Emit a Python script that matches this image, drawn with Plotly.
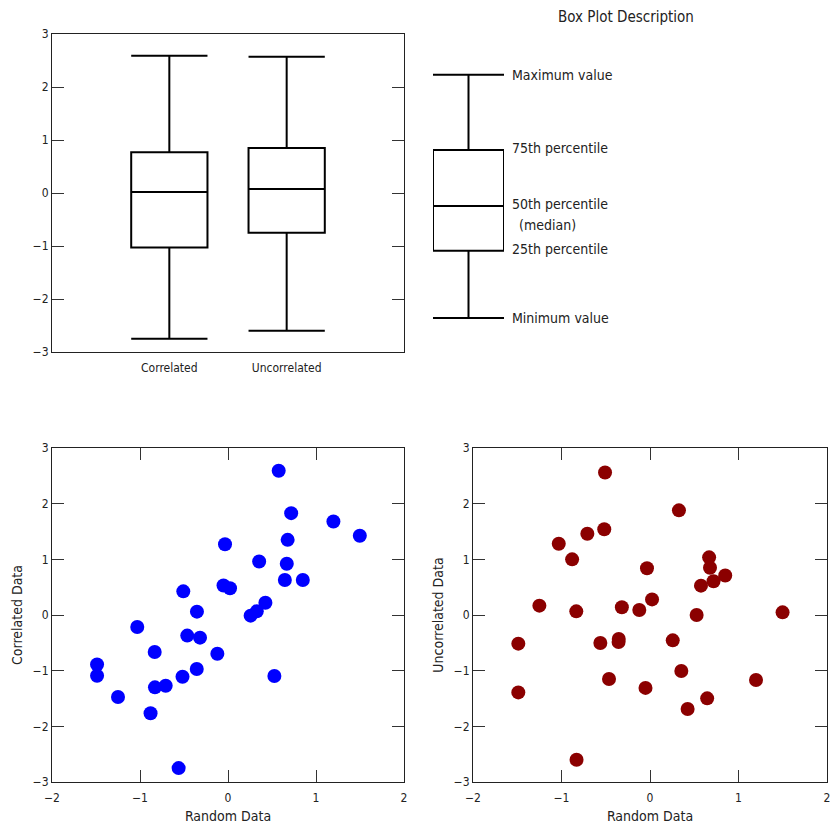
import plotly.graph_objects as go

# ---------------- data ----------------
random_x = [0.576, 0.718, 1.198, 1.498, -0.034, 0.678, 0.354, 0.668, 0.646, 0.850,
            -0.051, 0.023, -0.508, -0.353, 0.425, 0.327, 0.257, -1.031, -0.463, -0.318,
            -0.833, -0.121, -1.488, -1.488, -0.355, -0.517, 0.527, -0.830, -0.708, -1.250,
            -0.880, -0.561]
correlated_y = [2.59, 1.83, 1.68, 1.425, 1.27, 1.35, 0.96, 0.92, 0.63, 0.63,
                0.53, 0.48, 0.425, 0.06, 0.22, 0.066, -0.012, -0.216, -0.37, -0.407,
                -0.665, -0.695, -0.89, -1.09, -0.97, -1.108, -1.096, -1.30, -1.27, -1.473,
                -1.766, -2.75]
uncorrelated_y = [0.527, 0.605, -1.168, 0.048, 0.84, 0.85, -1.006, 1.036, -1.497, 0.71,
                  -1.31, 0.28, 2.56, -0.43, -1.689, 1.88, -0.455, 1.28, -1.15, 0.138,
                  0.066, 0.09, -0.515, -1.39, -0.485, 1.54, 0.0, -2.60, 1.46, 0.168,
                  1.0, -0.503]

box_categories = ["Correlated", "Uncorrelated"]
box_min = [-2.75, -2.60]
box_q1 = [-1.03, -0.75]
box_median = [0.02, 0.075]
box_q3 = [0.77, 0.85]
box_max = [2.59, 2.57]

desc_stats = {"min": -2.36, "q1": -1.09, "median": -0.245, "q3": 0.81, "max": 2.23}
desc_labels = ["Maximum value", "75th percentile", "50th percentile", "25th percentile", "Minimum value"]

# ---------------- style ----------------
FONT = "DejaVu Sans Condensed, Liberation Sans Narrow, sans-serif"
W, H = 835, 830
def px_x(p): return p / W
def px_y(p): return 1 - p / H

fig = go.Figure()

# Box plot (top-left)
fig.add_trace(go.Box(
    x=box_categories, q1=box_q1, median=box_median, q3=box_q3,
    lowerfence=box_min, upperfence=box_max,
    width=0.65, whiskerwidth=1, fillcolor="white",
    line=dict(color="black", width=2), boxpoints=False,
    xaxis="x", yaxis="y", showlegend=False, hoverinfo="y"))

# Description box (top-right)
fig.add_trace(go.Box(
    x=[0], q1=[desc_stats["q1"]], median=[desc_stats["median"]], q3=[desc_stats["q3"]],
    lowerfence=[desc_stats["min"]], upperfence=[desc_stats["max"]],
    width=1, whiskerwidth=1, fillcolor="white",
    line=dict(color="black", width=2), boxpoints=False,
    xaxis="x4", yaxis="y4", showlegend=False, hoverinfo="skip"))

# Scatter plots
fig.add_trace(go.Scatter(x=random_x, y=correlated_y, mode="markers",
                         marker=dict(color="#0000FF", size=14),
                         xaxis="x2", yaxis="y2", showlegend=False))
fig.add_trace(go.Scatter(x=random_x, y=uncorrelated_y, mode="markers",
                         marker=dict(color="#8B0000", size=14),
                         xaxis="x3", yaxis="y3", showlegend=False))

tickfont = dict(family=FONT, size=12, color="#222")
titlefont = dict(family=FONT, size=14, color="#222")

def yax(domain, anchor, title=None):
    d = dict(domain=domain, anchor=anchor, range=[-3, 3], dtick=1,
             ticks="inside", ticklen=12, tickcolor="#333", tickwidth=1.2,
             showline=True, linecolor="#222", linewidth=1.2, mirror="ticks",
             showgrid=False, zeroline=False, tickfont=tickfont, fixedrange=True,
             automargin=False)
    if title:
        d["title"] = dict(text=title, font=titlefont, standoff=6)
    return d

def xax_num(domain, anchor, title):
    return dict(domain=domain, anchor=anchor, range=[-2, 2], dtick=1,
                ticks="inside", ticklen=12, tickcolor="#333", tickwidth=1.2,
                showline=True, linecolor="#222", linewidth=1.2, mirror="ticks",
                showgrid=False, zeroline=False, tickfont=tickfont, fixedrange=True,
                automargin=False, ticklabelstandoff=4, ticklabeloverflow="allow",
                title=dict(text=title, font=titlefont, standoff=7))

top_dom = [px_y(352), px_y(34)]
bot_dom = [px_y(782), px_y(448)]
left_x = [px_x(52), px_x(404)]
right_x = [px_x(473), px_x(827)]

fig.update_layout(
    width=W, height=H, margin=dict(l=0, r=0, t=0, b=0, autoexpand=False),
    paper_bgcolor="white", plot_bgcolor="white",
    font=dict(family=FONT, color="#222"),
    xaxis=dict(domain=left_x, anchor="y", type="category", range=[-1, 2],
               showline=True, linecolor="#222", linewidth=1.2, mirror=True,
               ticks="", showgrid=False, tickfont=tickfont, ticklabelstandoff=4,
               fixedrange=True, automargin=False),
    yaxis=yax(top_dom, "x"),
    xaxis2=xax_num(left_x, "y2", "Random Data"),
    yaxis2=yax(bot_dom, "x2", "Correlated Data"),
    xaxis3=xax_num(right_x, "y3", "Random Data"),
    yaxis3=yax(bot_dom, "x3", "Uncorrelated Data"),
    xaxis4=dict(domain=[px_x(433), px_x(504)], anchor="y4", range=[-0.5, 0.5],
                visible=False, fixedrange=True, automargin=False),
    yaxis4=dict(domain=top_dom, anchor="x4", range=[-3, 3], visible=False,
                fixedrange=True, automargin=False),
)

ann = [dict(text="Box Plot Description", xref="paper", yref="paper",
            x=px_x(626), y=px_y(17), xanchor="center", yanchor="middle",
            showarrow=False, font=dict(family=FONT, size=15, color="#222"))]
desc_keys = ["max", "q3", "median", "q1", "min"]
desc_shift = [0, 2, 2, 2, 0]
for lab, key, sh in zip(desc_labels, desc_keys, desc_shift):
    ann.append(dict(text=lab, xref="paper", yref="y4", x=px_x(510), y=desc_stats[key],
                    xanchor="left", yanchor="middle", yshift=sh, showarrow=False,
                    font=dict(family=FONT, size=14, color="#222")))
ann.append(dict(text="(median)", xref="paper", yref="y4", x=px_x(517), y=desc_stats["median"],
                xanchor="left", yanchor="middle", yshift=-19, showarrow=False,
                font=dict(family=FONT, size=14, color="#222")))
fig.update_layout(annotations=ann)

# remove the default page margin so the 835x830 figure fills the window exactly
fig.write_html("out.html", config={"displayModeBar": False},
               post_script="document.body.style.margin='0px';")
